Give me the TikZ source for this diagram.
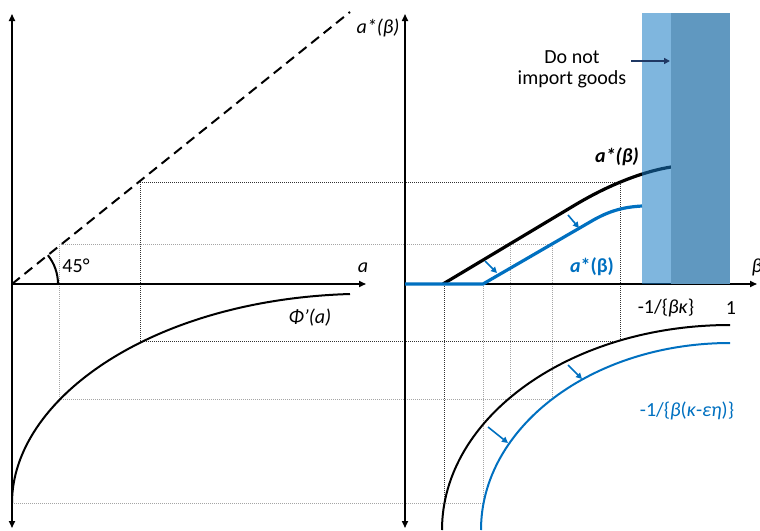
\documentclass[tikz,border=0pt]{standalone}
\usepackage{fontspec}
\setmainfont{Carlito}
\usetikzlibrary{arrows.meta}
\definecolor{myblue}{RGB}{0,112,192}
\definecolor{lightshade}{RGB}{22,122,195}
\definecolor{darkshade}{RGB}{96,152,192}
\definecolor{navy}{RGB}{31,56,100}
\definecolor{dotgray}{RGB}{165,165,165}
\definecolor{dotblack}{RGB}{50,50,50}
\begin{document}
\begin{tikzpicture}[x=0.5pt,y=-0.5pt,
  axis/.style={line width=0.8pt,-{Triangle[length=3.5pt,width=3pt]}},
  axisboth/.style={line width=0.8pt,{Triangle[length=3.5pt,width=3pt]}-{Triangle[length=3.5pt,width=3pt]}},
  blackdot/.style={line width=0.5pt,dotblack,dash pattern=on 0.5pt off 0.5pt},
  graydot/.style={line width=0.5pt,dotgray,dash pattern=on 0.5pt off 0.5pt},
  thickcurve/.style={line width=1.6pt},
  thincurve/.style={line width=1pt},
  shiftarrow/.style={myblue,line width=0.8pt,-{Triangle[length=3pt,width=3pt]}},
  lbl/.style={inner sep=0pt}]
\useasboundingbox (0,0) rectangle (760,530);

% named points
\coordinate (LO) at (12,284);
\coordinate (LT) at (12,14);
\coordinate (LB) at (12,528);
\coordinate (LR) at (366,284);
\coordinate (RO) at (405,284);
\coordinate (RT) at (405,14);
\coordinate (RB) at (405,528);
\coordinate (RR) at (757,284);
\coordinate (D45) at (350,12);

% dotted guide lines
\draw[graydot] (59,244) -- (552,244);
\draw[graydot] (59,244) -- (59,399);
\draw[graydot] (59,399) -- (552,399);
\draw[graydot] (12,503) -- (483,503);
\draw[graydot] (483,284) -- (483,503);
\draw[graydot] (510,244) -- (510,398);
\draw[graydot] (552,244) -- (552,399);
\draw[blackdot] (140,182) -- (620,182);
\draw[blackdot] (140,341) -- (620,341);
\draw[blackdot] (140,182) -- (140,341);
\draw[blackdot] (620,182) -- (620,341);
\draw[blackdot] (444,284) -- (444,503);

% axes
\draw[axisboth] (LB) -- (LT);
\draw[axis] (LO) -- (LR);
\draw[axisboth] (RB) -- (RT);
\draw[axis] (RO) -- (RR);

% 45 degree line and arc
\draw[line width=1pt,dash pattern=on 5pt off 3pt] (LO) -- (D45);
\draw[line width=1pt] (58,284) arc[start angle=0,end angle=38.8,radius=23pt];

% Phi'(a)
\draw[thincurve] (12,503) .. controls (12,400) and (150,300) .. (350,294);

% lower right curves
\draw[thincurve] (442,530) arc[start angle=180,end angle=90,x radius=144pt,y radius=102.5pt];
\draw[thincurve,myblue] (481,530) arc[start angle=180,end angle=90,x radius=124.5pt,y radius=93.5pt];

% a*(beta) curves
\draw[thickcurve] (443,284) -- (575,205) .. controls (605,187) and (640,172) .. (671,167);
\draw[thickcurve,myblue] (405,284) -- (483,284) -- (590,222) .. controls (610,210) and (625,207) .. (642,206);

% shaded regions
\fill[lightshade,opacity=0.55] (642,13) rectangle (671,284);
\fill[darkshade] (671,13) rectangle (730,284);

% shift arrows
\coordinate (s1a) at (485,261); \coordinate (s1b) at (497,273);
\coordinate (s2a) at (568,215); \coordinate (s2b) at (579,228);
\coordinate (s3a) at (568,365); \coordinate (s3b) at (582,379);
\coordinate (s4a) at (488,427); \coordinate (s4b) at (508,443);
\draw[shiftarrow] (s1a) -- (s1b);
\draw[shiftarrow] (s2a) -- (s2b);
\draw[shiftarrow] (s3a) -- (s3b);
\draw[shiftarrow] (s4a) -- (s4b);

% labels
\node[lbl] (alab) at (363,268) {\itshape a};
\node[lbl] (astar) at (378,28) {\itshape a*(β)};
\node[lbl] (blab) at (757,267) {\itshape β};
\node[lbl] (deg) at (76,266) {45°};
\node[lbl] (phi) at (310,318) {\itshape Φ’(a)};
\node[lbl,font=\bfseries] (ablack) at (617,157) {\itshape a*(β)};
\node[lbl,font=\bfseries,text=myblue] (ablue) at (592,267) {\textit{a}*(β)};
\node[lbl] (kap) at (666,308) {-1/\{\textit{βκ}\}};
\node[lbl] (one) at (731,308) {1};
\node[lbl,text=myblue] (kapeta) at (687,411) {-1/\{\textit{β}(\textit{κ}-\textit{εη})\}};
\node[lbl,align=center,font=\fontsize{10}{10.6}\selectfont] (dont) at (572,69) {Do not\\import goods};
\coordinate (dArrS) at (631,61);
\coordinate (dArrE) at (670,61);
\draw[navy,line width=0.9pt,-{Triangle[length=3pt,width=3pt]}] (dArrS) -- (dArrE);
\end{tikzpicture}
\end{document}
